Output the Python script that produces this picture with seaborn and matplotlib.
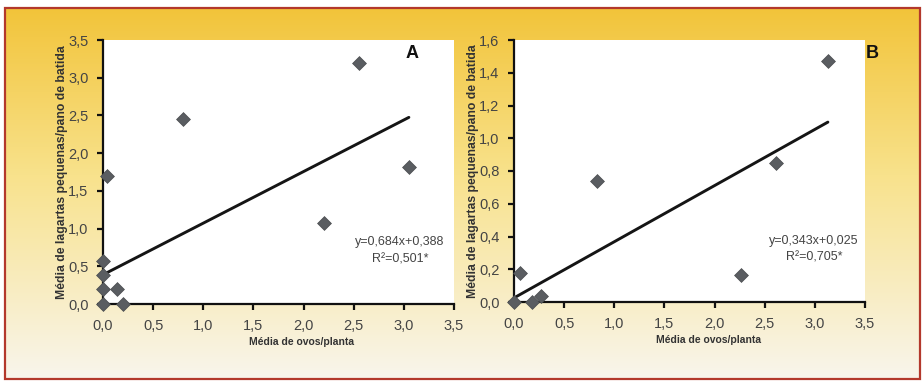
import numpy as np
import pandas as pd
import matplotlib
matplotlib.use("Agg")
import matplotlib.pyplot as plt
import matplotlib.patches as patches
import seaborn as sns

# panel A
ovos_a = [0.0, 0.0, 0.0, 0.0, 0.14, 0.20, 0.04, 0.80, 2.20, 2.55, 3.05]
lag_a = [0.0, 0.20, 0.38, 0.57, 0.20, 0.0, 1.70, 2.45, 1.07, 3.20, 1.82]
eq_a = (0.684, 0.388)
txt_a = ["y=0,684x+0,388", "R²=0,501*"]

# panel B
ovos_b = [0.0, 0.06, 0.18, 0.27, 0.83, 2.26, 2.61, 3.13]
lag_b = [0.0, 0.175, 0.0, 0.037, 0.74, 0.165, 0.85, 1.47]
eq_b = (0.343, 0.025)
txt_b = ["y=0,343x+0,025", "R²=0,705*"]

xticks = [0.0, 0.5, 1.0, 1.5, 2.0, 2.5, 3.0, 3.5]
yticks_a = [0.0, 0.5, 1.0, 1.5, 2.0, 2.5, 3.0, 3.5]
yticks_b = [0.0, 0.2, 0.4, 0.6, 0.8, 1.0, 1.2, 1.4, 1.6]

sns.set_style("ticks")
plt.rcParams['font.family'] = ['Liberation Sans', 'DejaVu Sans']

W, H = 924, 381
fig = plt.figure(figsize=(W / 100, H / 100), dpi=100)

# yellow gradient background + red frame
bg = fig.add_axes([0, 0, 1, 1], zorder=-5)
bg.set_axis_off()
t = np.linspace(0, 1, 256)[:, None]
top = np.array([242, 196, 58]) / 255
mid = np.array([248, 226, 140]) / 255
bot = np.array([249, 245, 236]) / 255
grad = np.where(t < 0.45, top + (mid - top) * (t / 0.45), mid + (bot - mid) * ((t - 0.45) / 0.55))
grad = np.repeat(grad[:, None, :], 2, axis=1).reshape(256, 2, 3)
bg.imshow(grad, aspect='auto', extent=[5 / W, 920 / W, 1 - 379 / H, 1 - 8 / H],
          transform=bg.transAxes)
bg.set_xlim(0, 1)
bg.set_ylim(0, 1)
fig.patches.append(patches.Rectangle((5 / W, 1 - 379 / H), 915 / W, 371 / H,
                                     transform=fig.transFigure, fill=False,
                                     edgecolor='#b3382c', linewidth=1.6))


def px(x0, y0, x1, y1):
    return [x0 / W, 1 - y1 / H, (x1 - x0) / W, (y1 - y0) / H]


def panel(rect, xs, ys, eq, yticks, ymax, label_x, eq_txt, eq_pos, letter, letter_pos):
    ax = fig.add_axes(rect)
    ax.set_facecolor('white')
    df = pd.DataFrame({'x': xs, 'y': ys})
    sns.scatterplot(data=df, x='x', y='y', ax=ax, marker='D', s=50,
                    color='#5a5d61', edgecolor='#4a4d50', linewidth=0.5,
                    clip_on=False, zorder=4)
    xl = np.array([0.0, max(xs)])
    ax.plot(xl, eq[0] * xl + eq[1], color='#151515', lw=2.1, zorder=3)
    ax.set_xlim(0, 3.5)
    ax.set_ylim(0, ymax)
    ax.set_xticks(xticks)
    ax.set_xticklabels([f"{v:.1f}".replace('.', ',') for v in xticks])
    ax.set_yticks(yticks)
    ax.set_yticklabels([f"{v:.1f}".replace('.', ',') for v in yticks])
    for s in ['top', 'right']:
        ax.spines[s].set_visible(False)
    for s in ['left', 'bottom']:
        ax.spines[s].set_linewidth(1.6)
        ax.spines[s].set_color('#111111')
    ax.tick_params(axis='both', length=4.5, width=1.6, color='#111111',
                   labelsize=10.5, labelcolor='#444444', pad=6)
    ax.set_xlabel("Média de ovos/planta", fontsize=7.5, fontweight='bold', color='#333333')
    ax.xaxis.set_label_coords(label_x, -0.145)
    ax.xaxis.label.set_va('center')
    ax.set_ylabel("Média de lagartas pequenas/pano de batida", fontsize=8.8,
                  fontweight='bold', color='#333333')
    ax.yaxis.set_label_coords(-0.117, 0.5)
    ax.yaxis.label.set_va('center')
    fig.text(eq_pos[0] / W, 1 - eq_pos[1] / H, eq_txt[0], ha='center', va='center',
             fontsize=9, color='#444444')
    fig.text(eq_pos[0] / W, 1 - (eq_pos[1] + 17) / H, eq_txt[1], ha='center', va='center',
             fontsize=9, color='#444444')
    fig.text(letter_pos[0] / W, 1 - letter_pos[1] / H, letter, ha='center', va='center',
             fontsize=13, fontweight='bold', color='#111111')
    return ax


panel(px(103, 40, 454, 304), ovos_a, lag_a, eq_a, yticks_a, 3.5, 0.567,
      txt_a, (400, 242), "A", (412, 54))
panel(px(514, 40, 865, 302), ovos_b, lag_b, eq_b, yticks_b, 1.6, 0.553,
      txt_b, (814, 241), "B", (872, 53))

fig.savefig("out.png", dpi=100)
